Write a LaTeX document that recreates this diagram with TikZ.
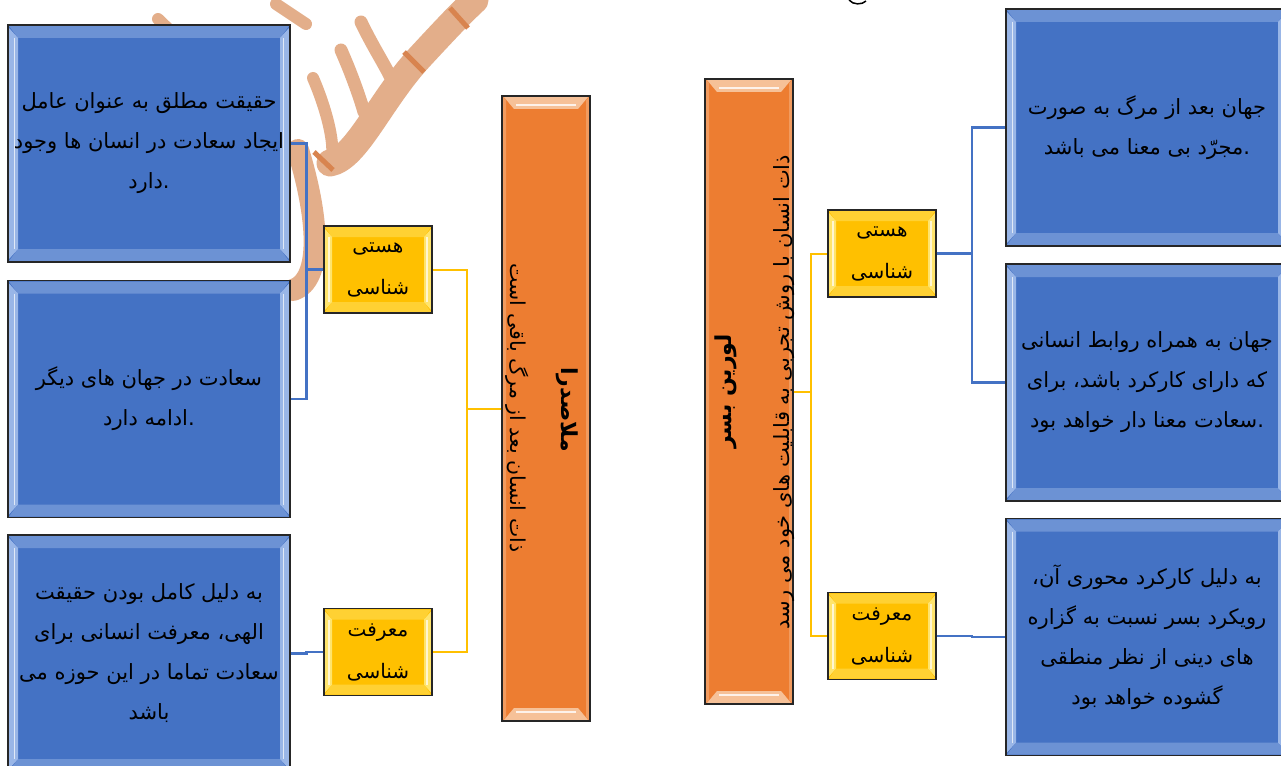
\documentclass[tikz,border=0pt]{standalone}
\usepackage{fontspec}
\newfontfamily\fa[Script=Arabic]{DejaVu Sans}
\TeXXeTstate=1
\definecolor{leafblue}{HTML}{4472C4}
\definecolor{leaflight}{HTML}{A9C2EE}
\definecolor{topicyellow}{HTML}{FFC000}
\definecolor{topiclight}{HTML}{FFEB80}
\definecolor{barorange}{HTML}{ED7D31}
\definecolor{barlight}{HTML}{F8C9A4}
\definecolor{inkmark}{HTML}{E3AE8A}
\definecolor{inkdark}{HTML}{D8844F}
\newcommand{\ppb}{path picture bounding box}
\newcommand{\rline}[1]{\beginR #1\endR}

\tikzset{
  bevelsides/.style 2 args={path picture={
      \fill[#1,opacity=.85] ([shift={(1pt,-3pt)}]\ppb.north west) -- ([shift={(#2,{-3pt-#2})}]\ppb.north west)
        -- ([shift={(#2,{3pt+#2})}]\ppb.south west) -- ([shift={(1pt,3pt)}]\ppb.south west) -- cycle;
      \fill[#1,opacity=.85] ([shift={(-1pt,-3pt)}]\ppb.north east) -- ([shift={(-#2,{-3pt-#2})}]\ppb.north east)
        -- ([shift={(-#2,{3pt+#2})}]\ppb.south east) -- ([shift={(-1pt,3pt)}]\ppb.south east) -- cycle;
      \fill[#1,opacity=.4] ([shift={(1pt,-1pt)}]\ppb.north west) -- ([shift={(-1pt,-1pt)}]\ppb.north east)
        -- ([shift={(-#2,{-3pt-#2})}]\ppb.north east) -- ([shift={(#2,{-3pt-#2})}]\ppb.north west) -- cycle;
      \fill[#1,opacity=.4] ([shift={(1pt,1pt)}]\ppb.south west) -- ([shift={(-1pt,1pt)}]\ppb.south east)
        -- ([shift={(-#2,{3pt+#2})}]\ppb.south east) -- ([shift={(#2,{3pt+#2})}]\ppb.south west) -- cycle;
      \draw[white,opacity=.7,line width=1.5pt] ([shift={({.65*#2},{-3pt-#2})}]\ppb.north west) -- ([shift={({.65*#2},{3pt+#2})}]\ppb.south west);
      \draw[white,opacity=.7,line width=1.5pt] ([shift={({-.65*#2},{-3pt-#2})}]\ppb.north east) -- ([shift={({-.65*#2},{3pt+#2})}]\ppb.south east);
    }},
  bevelends/.style={path picture={
      \fill[#1,opacity=.9] ([shift={(2pt,-1pt)}]\ppb.north west) -- ([shift={(-2pt,-1pt)}]\ppb.north east)
        -- ([shift={(-12pt,-13pt)}]\ppb.north east) -- ([shift={(12pt,-13pt)}]\ppb.north west) -- cycle;
      \fill[#1,opacity=.9] ([shift={(2pt,1pt)}]\ppb.south west) -- ([shift={(-2pt,1pt)}]\ppb.south east)
        -- ([shift={(-12pt,13pt)}]\ppb.south east) -- ([shift={(12pt,13pt)}]\ppb.south west) -- cycle;
      \draw[white,opacity=.8,line width=2pt] ([shift={(14pt,-9pt)}]\ppb.north west) -- ([shift={(-14pt,-9pt)}]\ppb.north east);
      \draw[white,opacity=.8,line width=2pt] ([shift={(14pt,9pt)}]\ppb.south west) -- ([shift={(-14pt,9pt)}]\ppb.south east);
      \fill[#1,opacity=.4] ([shift={(1pt,-1pt)}]\ppb.north west) -- ([shift={(4pt,-4pt)}]\ppb.north west)
        -- ([shift={(4pt,4pt)}]\ppb.south west) -- ([shift={(1pt,1pt)}]\ppb.south west) -- cycle;
      \fill[#1,opacity=.4] ([shift={(-1pt,-1pt)}]\ppb.north east) -- ([shift={(-4pt,-4pt)}]\ppb.north east)
        -- ([shift={(-4pt,4pt)}]\ppb.south east) -- ([shift={(-1pt,1pt)}]\ppb.south east) -- cycle;
    }},
  leaf/.style={draw=black!85, line width=1.2pt, fill=leafblue, minimum width=282pt, minimum height=237pt,
    inner sep=2pt, align=center, font=\fa\fontsize{21}{40}\selectfont, bevelsides={leaflight}{10pt}},
  topic/.style={draw=black!85, line width=1.2pt, fill=topicyellow, minimum width=108pt, minimum height=87pt,
    inner sep=2pt, align=center, font=\fa\fontsize{20}{42}\selectfont, bevelsides={topiclight}{8pt}},
  bar/.style={draw=black!85, line width=1.2pt, fill=barorange, minimum width=88pt, minimum height=625pt,
    bevelends=barlight},
  bartitle/.style={font=\fa\bfseries\fontsize{22}{24}\selectfont, inner sep=0pt},
  barnote/.style={font=\fa\fontsize{#1}{24}\selectfont, inner sep=0pt},
  blueline/.style={draw=leafblue, line width=2.2pt},
  yelline/.style={draw=topicyellow, line width=2pt},
  ink/.style={draw=inkmark, line cap=round},
}

\begin{document}
\begin{tikzpicture}[x=1pt,y=-1pt]
  \useasboundingbox[fill=white] (0,0) rectangle (1281,765);

  % watermark strokes
  \draw[ink,line width=12pt] (158,19) -- (185,45);
  \draw[ink,line width=12pt] (276,4) -- (306,24);
  \draw[ink,line width=22pt] (298,150) .. controls (318,215) and (324,280) .. (293,290);
  \draw[ink,line width=12pt] (313,78) .. controls (327,110) and (337,150) .. (330,162);
  \draw[ink,line width=27pt] (330,163) .. controls (357,158) and (380,100) .. (420,57) .. controls (445,30) and (462,12) .. (475,0);
  \draw[ink,line width=13pt] (341,50) .. controls (352,75) and (360,98) .. (364,112);
  \draw[ink,line width=13pt] (361,22) .. controls (372,45) and (383,62) .. (390,76);
  \draw[inkdark,line width=5pt] (314,152) -- (333,170);
  \draw[inkdark,line width=5pt] (404,52) -- (424,72);
  \draw[inkdark,line width=5pt] (450,8) -- (468,28);
  \draw[line width=1.5pt] (849,0) .. controls (853,5) and (862,5) .. (866,1);

  \node[leaf] (L1) at (149,143.5) {\rline{حقیقت مطلق به عنوان عامل}\\\rline{ایجاد سعادت در انسان ها وجود}\\\rline{دارد}.};
  \node[leaf] (L2) at (149,399) {\rline{سعادت در جهان های دیگر}\\\rline{ادامه دارد}.};
  \node[leaf] (L3) at (149,653.5) {\rline{به دلیل کامل بودن حقیقت}\\\rline{الهی، معرفت انسانی برای}\\\rline{سعادت تماما در این حوزه می}\\\rline{باشد}};

  \node[topic] (LHasti) at (378,269.5) {\rline{هستی}\\\rline{شناسی}};
  \node[topic] (LMaref) at (378,652) {\rline{معرفت}\\\rline{شناسی}};

  \node[bar] (Mulla) at (546,408.5) {};
  \node[bartitle,rotate=-90] (MullaTitle) at (567,409.5) {\rline{ملاصدرا}};
  \node[barnote=20.5,rotate=-90] (MullaNote) at (517,408) {\rline{ذات انسان بعد از مرگ باقی است}};

  \node[bar] (Lorin) at (749,391.5) {};
  \node[bartitle,rotate=90] (LorinTitle) at (726,391.5) {\rline{لورین بسر}};
  \node[barnote=21,rotate=90] (LorinNote) at (784,392) {\rline{ذات انسان با روش تجربی به قابلیت های خود می رسد}};

  \node[topic] (RHasti) at (882,253.5) {\rline{هستی}\\\rline{شناسی}};
  \node[topic] (RMaref) at (882,636) {\rline{معرفت}\\\rline{شناسی}};

  \node[leaf] (R1) at (1147,127.5) {\rline{جهان بعد از مرگ به صورت}\\\rline{مجرّد بی معنا می باشد}.};
  \node[leaf] (R2) at (1147,382.5) {\rline{جهان به همراه روابط انسانی}\\\rline{که دارای کارکرد باشد، برای}\\\rline{سعادت معنا دار خواهد بود}.};
  \node[leaf] (R3) at (1147,637) {\rline{به دلیل کارکرد محوری آن،}\\\rline{رویکرد بسر نسبت به گزاره}\\\rline{های دینی از نظر منطقی}\\\rline{گشوده خواهد بود}};

  \draw[yelline] (Mulla.west) -- ++(-34,0) |- (LHasti.east);
  \draw[yelline] (Mulla.west) -- ++(-34,0) |- (LMaref.east);
  \draw[blueline] (LHasti.west) -- ++(-17,0) |- (L1.east);
  \draw[blueline] (LHasti.west) -- ++(-17,0) |- (L2.east);
  \draw[blueline] (LMaref.west) -- ++(-17,0) |- (L3.east);

  \draw[yelline] (Lorin.east) -- ++(17,0) |- (RHasti.west);
  \draw[yelline] (Lorin.east) -- ++(17,0) |- (RMaref.west);
  \draw[blueline] (RHasti.east) -- ++(35,0) |- (R1.west);
  \draw[blueline] (RHasti.east) -- ++(35,0) |- (R2.west);
  \draw[blueline] (RMaref.east) -- ++(35,0) |- (R3.west);
\end{tikzpicture}
\end{document}
